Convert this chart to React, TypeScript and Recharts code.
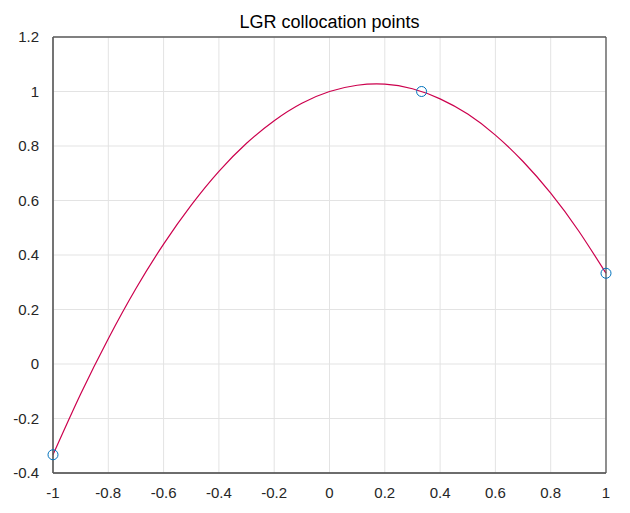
import { ComposedChart, Line, Scatter, XAxis, YAxis, CartesianGrid } from 'recharts';

// curve samples, x = -1 .. 1 step 0.1
const curveX = [-1, -0.9, -0.8, -0.7, -0.6, -0.5, -0.4, -0.3, -0.2, -0.1, 0, 0.1, 0.2, 0.3, 0.4, 0.5, 0.6, 0.7, 0.8, 0.9, 1];
const curveY = [-0.333, -0.11, 0.093, 0.277, 0.44, 0.583, 0.707, 0.81, 0.893, 0.957, 1, 1.023, 1.027, 1.01, 0.973, 0.917, 0.84, 0.743, 0.627, 0.49, 0.333];

// collocation points (circles)
const pointX = [-1, 0.333, 1];
const pointY = [-0.333, 1, 0.333];

const xTicks = [-1, -0.8, -0.6, -0.4, -0.2, 0, 0.2, 0.4, 0.6, 0.8, 1];
const yTicks = [-0.4, -0.2, 0, 0.2, 0.4, 0.6, 0.8, 1, 1.2];

const curveData = curveX.map((x, i) => ({ x, y: curveY[i] }));
const pointData = pointX.map((x, i) => ({ x, y: pointY[i] }));

const axisColor = '#5a5a5a';
const textColor = '#262626';
const font = 'Liberation Sans, Arial, sans-serif';

const Circle = (props: any) => {
  const { cx, cy } = props;
  return <circle cx={cx} cy={cy} r={5} fill="none" stroke="#0072BD" strokeWidth={1} />;
};

// inward tick marks + frame lines, drawn by mirrored axes that take no space
const frameX = (id: string, side: 'top' | 'bottom') => (
  <XAxis
    key={id}
    xAxisId={id}
    orientation={side}
    mirror
    type="number"
    domain={[-1, 1]}
    ticks={xTicks}
    stroke={axisColor}
    strokeWidth={1.3}
    tickSize={5}
    tick={false}
  />
);

const frameY = (id: string, side: 'left' | 'right') => (
  <YAxis
    key={id}
    yAxisId={id}
    orientation={side}
    mirror
    type="number"
    domain={[-0.4, 1.2]}
    ticks={yTicks}
    stroke={axisColor}
    strokeWidth={1.3}
    tickSize={5}
    tick={false}
  />
);

export default function App() {
  return (
    <div style={{ position: 'absolute', left: 0, top: 0, width: 630, height: 513, background: '#fff', fontFamily: font }}>
      <div style={{ position: 'absolute', left: 53, width: 553, top: 12, textAlign: 'center', fontSize: 18, color: '#000' }}>
        LGR collocation points
      </div>
      <ComposedChart width={630} height={513} margin={{ top: 37, right: 24, left: 8, bottom: 10 }}>
        <CartesianGrid xAxisId="b" yAxisId="l" stroke="#e3e3e3" strokeWidth={1} />
        <XAxis
          xAxisId="b"
          dataKey="x"
          type="number"
          domain={[-1, 1]}
          ticks={xTicks}
          height={30}
          stroke={axisColor}
          tickLine={false}
          tickMargin={8}
          tick={{ fill: textColor, fontSize: 15, fontFamily: font }}
        />
        <YAxis
          yAxisId="l"
          dataKey="y"
          type="number"
          domain={[-0.4, 1.2]}
          ticks={yTicks}
          width={45}
          stroke={axisColor}
          tickLine={false}
          tickMargin={8}
          tick={{ fill: textColor, fontSize: 15, fontFamily: font }}
        />
        {frameX('bt', 'bottom')}
        {frameX('t', 'top')}
        {frameY('lt', 'left')}
        {frameY('r', 'right')}
        <Line
          xAxisId="b"
          yAxisId="l"
          data={curveData}
          dataKey="y"
          type="natural"
          stroke="#CC004D"
          strokeWidth={1.2}
          dot={false}
          isAnimationActive={false}
        />
        <Scatter
          xAxisId="b"
          yAxisId="l"
          data={pointData}
          dataKey="y"
          shape={<Circle />}
          isAnimationActive={false}
        />
      </ComposedChart>
    </div>
  );
}
